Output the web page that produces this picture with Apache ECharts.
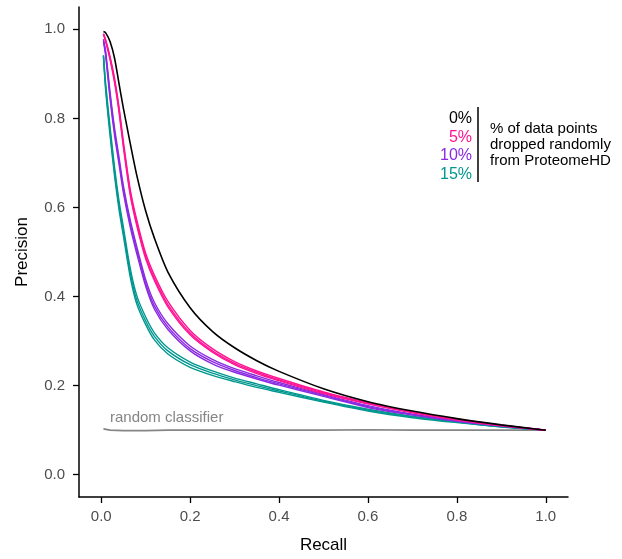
<!DOCTYPE html>
<html><head><meta charset="utf-8">
<script src="https://cdn.jsdelivr.net/npm/echarts@6/dist/echarts.min.js"></script>
<style>html,body{margin:0;padding:0;background:#fff}#c{width:622px;height:559px}</style>
</head><body><div id="c"></div>
<script>
var recall = [0.005,0.01,0.02,0.03,0.04,0.05,0.065,0.08,0.1,0.12,0.15,0.2,0.25,0.3,0.35,0.4,0.5,0.6,0.7,0.8,0.9,1.0];
var black0 = [0.995,0.992,0.972,0.935,0.878,0.822,0.745,0.672,0.592,0.530,0.455,0.375,0.322,0.285,0.256,0.232,0.193,0.164,0.143,0.126,0.112,0.100];
var pinkA = [0.99,0.976,0.938,0.89,0.826,0.747,0.642,0.572,0.497,0.447,0.389,0.324,0.283,0.254,0.233,0.216,0.186,0.162,0.141,0.125,0.111,0.1];
var pinkB = [0.99,0.975,0.935,0.885,0.82,0.74,0.635,0.565,0.49,0.44,0.382,0.318,0.278,0.25,0.23,0.213,0.184,0.16,0.14,0.124,0.111,0.1];
var pinkC = [0.988,0.972,0.931,0.88,0.814,0.734,0.629,0.559,0.485,0.435,0.377,0.314,0.275,0.247,0.227,0.211,0.182,0.159,0.139,0.123,0.11,0.1];
var purpleA = [0.978,0.95,0.858,0.778,0.713,0.648,0.573,0.512,0.438,0.386,0.339,0.289,0.259,0.238,0.222,0.207,0.18,0.155,0.136,0.122,0.11,0.1];
var purpleB = [0.975,0.945,0.85,0.77,0.705,0.64,0.565,0.504,0.43,0.378,0.332,0.283,0.254,0.234,0.218,0.204,0.178,0.153,0.135,0.121,0.11,0.1];
var purpleC = [0.972,0.94,0.842,0.762,0.697,0.632,0.557,0.496,0.423,0.371,0.326,0.278,0.249,0.23,0.215,0.201,0.176,0.151,0.134,0.12,0.109,0.1];
var tealA = [0.942,0.878,0.78,0.69,0.615,0.555,0.465,0.402,0.354,0.318,0.285,0.253,0.233,0.217,0.204,0.191,0.167,0.147,0.131,0.119,0.108,0.1];
var tealB = [0.94,0.87,0.77,0.68,0.605,0.545,0.455,0.392,0.345,0.31,0.278,0.247,0.228,0.213,0.2,0.188,0.165,0.145,0.13,0.118,0.108,0.1];
var tealC = [0.938,0.862,0.76,0.67,0.595,0.535,0.445,0.383,0.337,0.302,0.271,0.241,0.223,0.209,0.196,0.185,0.163,0.143,0.128,0.117,0.107,0.1];
var recallRandom = [0.005,0.02,0.05,0.1,0.15,0.2,0.3,0.4,0.5,0.6,0.7,0.8,0.9,1.0];
var precRandom = [0.103,0.1,0.099,0.099,0.1,0.1,0.1,0.1,0.1,0.101,0.1,0.1,0.1,0.1];
var tickValues = [0,0.2,0.4,0.6,0.8,1.0];
var legendLabels = ['0%','5%','10%','15%'];
var legendTitle = ['% of data points','dropped randomly','from ProteomeHD'];

var colors = {black:'#000000', pink:'#FF1493', purple:'#8A2BE2', teal:'#00978F', gray:'#858585'};
var FONT = '"Liberation Sans", Arial, sans-serif';

function pairs(xs, ys){ return xs.map(function(x,i){ return [x, ys[i]]; }); }
function lineSeries(name, ys, color, width, xs, smooth){
  return {type:'line', name:name, data:pairs(xs||recall, ys), showSymbol:false, symbol:'none',
    smooth:smooth, lineStyle:{color:color, width:width}, silent:true, z:2};
}

var series = [
  lineSeries('random', precRandom, colors.gray, 1.7, recallRandom, false),
  lineSeries('15%a', tealA, colors.teal, 1.4, null, 0.25),
  lineSeries('15%b', tealB, colors.teal, 1.4, null, 0.25),
  lineSeries('15%c', tealC, colors.teal, 1.4, null, 0.25),
  lineSeries('10%a', purpleA, colors.purple, 1.4, null, 0.25),
  lineSeries('10%b', purpleB, colors.purple, 1.4, null, 0.25),
  lineSeries('10%c', purpleC, colors.purple, 1.4, null, 0.25),
  lineSeries('5%a', pinkA, colors.pink, 1.4, null, 0.25),
  lineSeries('5%b', pinkB, colors.pink, 1.4, null, 0.25),
  lineSeries('5%c', pinkC, colors.pink, 1.4, null, 0.25),
  lineSeries('0%', black0, colors.black, 1.6, null, 0.25)
];

var legendColors = [colors.black, colors.pink, colors.purple, colors.teal];
var graphics = [];
legendLabels.forEach(function(t,i){
  graphics.push({type:'text', right:622-472, top:110.5+i*18.7, style:{text:t, fill:legendColors[i], font:'16px '+FONT, textAlign:'right'}});
});
graphics.push({type:'line', shape:{x1:478,y1:107,x2:478,y2:182}, style:{stroke:'#000', lineWidth:1.5}});
graphics.push({type:'text', left:490, top:121, style:{text:legendTitle.join('\n'), fill:'#000', font:'15px '+FONT, lineHeight:16}});
graphics.push({type:'text', left:110, top:410.5, style:{text:'random classifier', fill:colors.gray, font:'15px '+FONT}});

var axisCommon = {
  type:'value', min:-0.05, max:1.05,
  axisLine:{show:true, onZero:false, lineStyle:{color:'#000', width:1.5}},
  axisTick:{show:true, customValues:tickValues, length:6, lineStyle:{color:'#000', width:1.3}},
  axisLabel:{customValues:tickValues, color:'#4D4D4D', fontSize:15, fontFamily:FONT,
    formatter:function(v){ return v.toFixed(1); }},
  splitLine:{show:false},
  nameLocation:'middle',
  nameTextStyle:{color:'#000', fontSize:17, fontFamily:FONT}
};

var chart = echarts.init(document.getElementById('c'), null, {renderer:'canvas'});
chart.setOption({
  animation:false,
  backgroundColor:'#fff',
  grid:{left:79, right:54, top:7, bottom:62, containLabel:false},
  xAxis:Object.assign({}, axisCommon, {name:'Recall', nameGap:40,
    axisLabel:Object.assign({}, axisCommon.axisLabel, {margin:12})}),
  yAxis:Object.assign({}, axisCommon, {name:'Precision', nameGap:48,
    axisLabel:Object.assign({}, axisCommon.axisLabel, {margin:14})}),
  series:series,
  graphic:graphics
});
</script></body></html>
